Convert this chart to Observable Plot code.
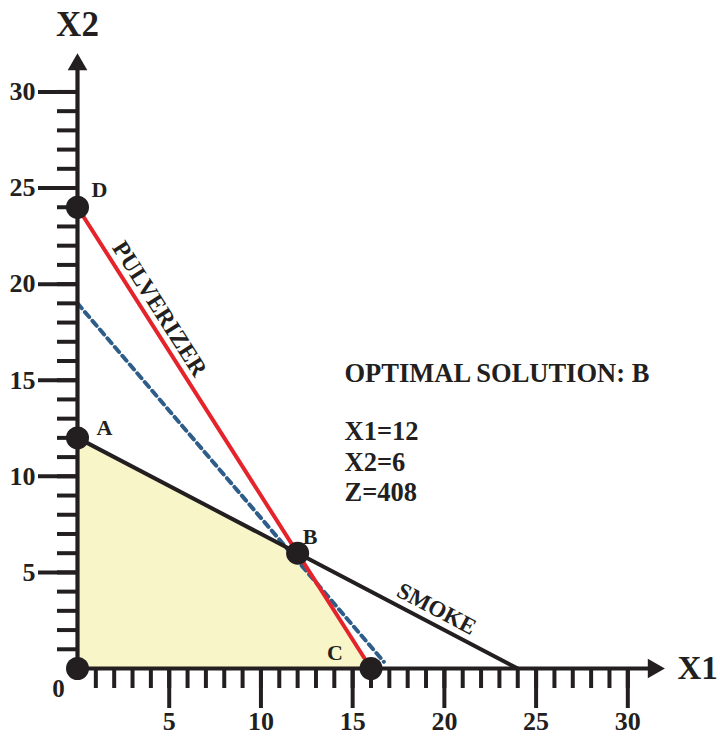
<!DOCTYPE html>
<html>
<head>
<meta charset="utf-8">
<script src="https://cdn.jsdelivr.net/npm/d3@7"></script>
<script src="https://cdn.jsdelivr.net/npm/@observablehq/plot@0.6"></script>
<style>
  html, body { margin: 0; padding: 0; background: #fff; }
  #chart svg { display: block; }
</style>
</head>
<body>
<div id="chart"></div>
<script>
// Corner points of the feasible region
const cornerNames = ["0", "A", "B", "C", "D"];
const cornerX1 = [0, 0, 12, 16, 0];
const cornerX2 = [0, 12, 6, 0, 24];

// Constraint lines (end points)
const smokeX1 = [0, 24];
const smokeX2 = [12, 0];
const pulverizerX1 = [0, 16];
const pulverizerX2 = [24, 0];

// Iso-profit line through the optimum
const isoX1 = [0, 16.7];
const isoX2 = [19, 0.35];

// Feasible region outline (upper boundary)
const regionX1 = [0, 12, 16];
const regionX2 = [12, 6, 0];

// Constraint label anchors (on each line)
const lineLabels = ["SMOKE", "PULVERIZER"];
const lineLabelX1 = [19.2, 3.8];
const lineLabelX2 = [2.4, 18.3];

// Axis ticks
const majorTicks = [5, 10, 15, 20, 25, 30];
const minorTicks = d3.range(1, 31);
const axisEnd = 32;

// Optimal solution
const optimalName = "B";
const optimalX1 = 12;
const optimalX2 = 6;
const optimalZ = 408;

const ink = "#231f20";
const serif = "'Liberation Serif', 'Times New Roman', serif";

const W = 720, H = 738;
const mL = 77, mR = 56, mT = 53, mB = 70;
const pxX = (W - mL - mR) / axisEnd;
const pxY = (H - mT - mB) / axisEnd;
const angleOf = (xs, ys) =>
  Math.atan2((ys[0] - ys[1]) * pxY, (xs[1] - xs[0]) * pxX) * 180 / Math.PI;

const corners = cornerNames.map((name, i) => ({name, x: cornerX1[i], y: cornerX2[i]}));
const seg = (xs, ys) => xs.map((x, i) => ({x, y: ys[i]}));
const region = seg(regionX1, regionX2);
const smoke = seg(smokeX1, smokeX2);
const pulverizer = seg(pulverizerX1, pulverizerX2);
const iso = seg(isoX1, isoX2);
const lineAngles = [angleOf(smokeX1, smokeX2), angleOf(pulverizerX1, pulverizerX2)];
const lineLabelOffsets = [[7, -13.5], [12.5, -8]];
const lineLabelSizes = [23, 24];
const lineLabelData = lineLabels.map((label, i) => ({
  label, x: lineLabelX1[i], y: lineLabelX2[i], rotate: lineAngles[i],
  dx: lineLabelOffsets[i][0], dy: lineLabelOffsets[i][1], size: lineLabelSizes[i]
}));

// corner label offsets in pixels
const cornerLabelStyle = {
  A: {dx: 19, dy: -10, anchor: "start"},
  B: {dx: 5, dy: -16, anchor: "start"},
  C: {dx: -28, dy: -16, anchor: "end"},
  D: {dx: 14, dy: -17, anchor: "start"}
};

const bold = {fontWeight: "bold", fontFamily: serif, fill: ink};

const marks = [
  // feasible region
  Plot.areaY(region, {x: "x", y: "y", fill: "#f8f5c8"}),
  // iso-profit line
  Plot.line(iso, {x: "x", y: "y", stroke: "#2d5d88", strokeWidth: 4, strokeDasharray: "6.5,5"}),
  // smoke constraint
  Plot.line(smoke, {x: "x", y: "y", stroke: ink, strokeWidth: 4}),
  // pulverizer constraint
  Plot.line(pulverizer, {x: "x", y: "y", stroke: "#e5232a", strokeWidth: 4}),
  // minor ticks
  Plot.axisX(minorTicks, {tickSize: 20, strokeWidth: 4, stroke: ink, fill: "none", label: null}),
  Plot.axisY(minorTicks, {tickSize: 20, strokeWidth: 4, stroke: ink, fill: "none", label: null}),
  // major ticks with labels
  Plot.axisX(majorTicks, {tickSize: 40, tickPadding: 3, strokeWidth: 4, stroke: ink,
    fontSize: 26, ...bold, label: null}),
  Plot.axisY(majorTicks, {tickSize: 39, tickPadding: 3, strokeWidth: 4, stroke: ink,
    fontSize: 26, ...bold, label: null}),
  // axis lines
  Plot.ruleY([0], {x1: 0, x2: axisEnd - 0.6, stroke: ink, strokeWidth: 4.2}),
  Plot.ruleX([0], {y1: 0, y2: axisEnd - 0.6, stroke: ink, strokeWidth: 4.2}),
  // arrow heads
  Plot.dot([{x: axisEnd, y: 0}], {x: "x", y: "y", symbol: "triangle", r: 7.3, rotate: 90, dx: -11, fill: ink, stroke: null}),
  Plot.dot([{x: 0, y: axisEnd}], {x: "x", y: "y", symbol: "triangle", r: 7.3, dy: 11, fill: ink, stroke: null}),
  // axis names
  Plot.text([{x: 0, y: axisEnd}], {x: "x", y: "y", text: () => "X2", dy: -29, textAnchor: "middle",
    fontSize: 35, ...bold}),
  Plot.text([{x: axisEnd, y: 0}], {x: "x", y: "y", text: () => "X1", dx: 13, dy: 0, textAnchor: "start",
    fontSize: 33, ...bold}),
  // constraint names along the lines
  ...lineLabelData.map(d => Plot.text([d], {x: "x", y: "y", text: "label", rotate: d.rotate,
    dx: d.dx, dy: d.dy, fontSize: d.size, ...bold})),
  // corner points
  Plot.dot(corners, {x: "x", y: "y", r: 11.5, fill: ink, stroke: null}),
  // corner labels
  ...corners.filter(d => d.name !== "0").map(d => {
    const s = cornerLabelStyle[d.name];
    return Plot.text([d], {x: "x", y: "y", text: "name", dx: s.dx, dy: s.dy, textAnchor: s.anchor,
      fontSize: 22, ...bold});
  }),
  Plot.text(corners.filter(d => d.name === "0"), {x: "x", y: "y", text: "name", dx: -19, dy: 20,
    textAnchor: "middle", fontSize: 25, ...bold}),
  // optimal solution summary
  Plot.text([`OPTIMAL SOLUTION: ${optimalName}`], {frameAnchor: "top-left", dx: 267, dy: 310,
    lineAnchor: "top", textAnchor: "start", fontSize: 26.5, ...bold}),
  Plot.text([`X1=${optimalX1}\nX2=${optimalX2}\nZ=${optimalZ}`], {frameAnchor: "top-left", dx: 267, dy: 365,
    lineAnchor: "top", lineHeight: 1.15, textAnchor: "start", fontSize: 26.5, ...bold})
];

const chart = Plot.plot({
  width: W,
  height: H,
  marginLeft: mL,
  marginRight: mR,
  marginTop: mT,
  marginBottom: mB,
  x: {domain: [0, axisEnd], label: null},
  y: {domain: [0, axisEnd], label: null},
  style: {background: "#fff", fontFamily: serif, color: ink, overflow: "visible"},
  marks
});
document.getElementById("chart").append(chart);
</script>
</body>
</html>
